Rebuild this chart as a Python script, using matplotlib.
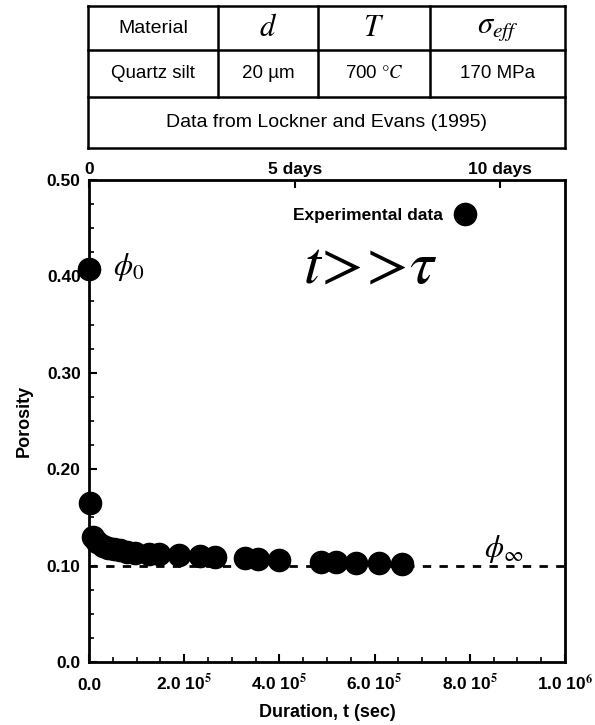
# porosity vs duration, Lockner and Evans (1995) quartz silt data
import numpy as np
import matplotlib.pyplot as plt

plt.rcParams['font.family'] = ['Liberation Sans', 'DejaVu Sans']
plt.rcParams['mathtext.fontset'] = 'stix'

# table contents
header = ["Material", r"$d$", r"$T$", r"$\sigma_{eff}$"]
row = ["Quartz silt", "20 µm", r"700 $\degree C$", "170 MPa"]
source = "Data from Lockner and Evans (1995)"

# experimental data: duration (s) and porosity
t_sec = [0, 2000, 8000, 17000, 29000, 40000, 52000, 65000, 80000, 96000, 125000,
         148000, 190000, 233000, 265000, 328000, 354000, 400000, 488000, 518000,
         560000, 610000, 658000]
porosity = [0.408, 0.165, 0.13, 0.125, 0.12, 0.118, 0.117, 0.116, 0.114, 0.113,
            0.112, 0.112, 0.111, 0.11, 0.109, 0.108, 0.107, 0.106, 0.104, 0.104,
            0.103, 0.103, 0.102]
phi_inf = 0.10

day_ticks = [0, 5, 10]
day_labels = ["0", "5 days", "10 days"]
x_ticks = [0, 2e5, 4e5, 6e5, 8e5, 1e6]
x_labels = ["0.0", r"2.0 10$^\mathbf{5}$", r"4.0 10$^\mathbf{5}$", r"6.0 10$^\mathbf{5}$",
            r"8.0 10$^\mathbf{5}$", r"1.0 10$^\mathbf{6}$"]
y_ticks = [0, 0.1, 0.2, 0.3, 0.4, 0.5]
y_labels = ["0.0", "0.10", "0.20", "0.30", "0.40", "0.50"]

fig = plt.figure(figsize=(5.95, 7.25), dpi=100)

# ---- table at the top ----
tab = fig.add_axes([88/595, 1-148/725, 477/595, 142/725])
tab.set_xlim(0, 1)
tab.set_ylim(0, 1)
tab.axis('off')
col_edges = [0, 130/477, 230/477, 342/477, 1]
row_edges = [1, 0.69, 0.36, 0]
kw = dict(color='black', lw=1.8, clip_on=False)
for yy in row_edges:
    tab.plot([0, 1], [yy, yy], **kw)
tab.plot([0, 0], [0, 1], **kw)
tab.plot([1, 1], [0, 1], **kw)
for xx in col_edges[1:-1]:
    tab.plot([xx, xx], [row_edges[2], 1], **kw)
for i in range(4):
    xc = (col_edges[i] + col_edges[i+1]) / 2
    fs = 22 if header[i].startswith('$') else 14
    tab.text(xc, (row_edges[0] + row_edges[1]) / 2, header[i], ha='center', va='center', fontsize=fs)
    tab.text(xc, (row_edges[1] + row_edges[2]) / 2, row[i], ha='center', va='center', fontsize=13.5)
tab.text(0.5, (row_edges[2] + row_edges[3]) / 2, source, ha='center', va='center', fontsize=14)

# ---- main plot ----
ax = fig.add_axes([89/595, 1-662/725, 476/595, 482/725])
ax.plot(t_sec, porosity, 'o', color='black', markersize=16, label="Experimental data", clip_on=False)
ax.plot([0, 1e6], [phi_inf, phi_inf], color='black', lw=2, dashes=(3, 3))
ax.set_xlim(0, 1e6)
ax.set_ylim(0, 0.5)
ax.set_xticks(x_ticks)
ax.set_xticklabels(x_labels, fontweight='bold', fontsize=12.5)
for lab in ax.get_xticklabels():
    lab.set_verticalalignment('baseline')
ax.set_yticks(y_ticks)
ax.set_yticklabels(y_labels, fontweight='bold', fontsize=12.5)
ax.set_xticks(np.arange(0, 1e6, 0.5e5), minor=True)
ax.set_yticks(np.arange(0, 0.5, 0.025), minor=True)
ax.tick_params(direction='in', length=6, width=1.5, top=False, right=False)
ax.tick_params(axis='x', pad=20)
ax.tick_params(axis='y', pad=6)
ax.tick_params(which='minor', direction='in', length=3.5, width=1.2, top=False, right=False)
for s in ax.spines.values():
    s.set_linewidth(2)
ax.set_xlabel("Duration, t (sec)", fontweight='bold', fontsize=13, labelpad=8)
ax.set_ylabel("Porosity", fontweight='bold', fontsize=13, labelpad=10)

top = ax.secondary_xaxis('top', functions=(lambda x: x / 86400, lambda d: d * 86400))
top.set_xticks(day_ticks)
top.set_xticklabels(day_labels, fontweight='bold', fontsize=12.5)
top.tick_params(direction='in', length=6, width=1.5, pad=2)

ax.legend(loc='upper right', bbox_to_anchor=(0.86, 0.975), frameon=False, markerfirst=False,
          handletextpad=0.3, prop={'weight': 'bold', 'size': 12.5}, numpoints=1)

ax.text(0.05e6, 0.41, r"$\phi_0$", fontsize=22, va='center')
ax.text(0.45e6, 0.41, r"$t\!>\!\!>\!\tau$", fontsize=44, va='center')
ax.text(0.83e6, 0.117, r"$\phi_\infty$", fontsize=22, va='center')

fig.savefig("out.png", dpi=100)
